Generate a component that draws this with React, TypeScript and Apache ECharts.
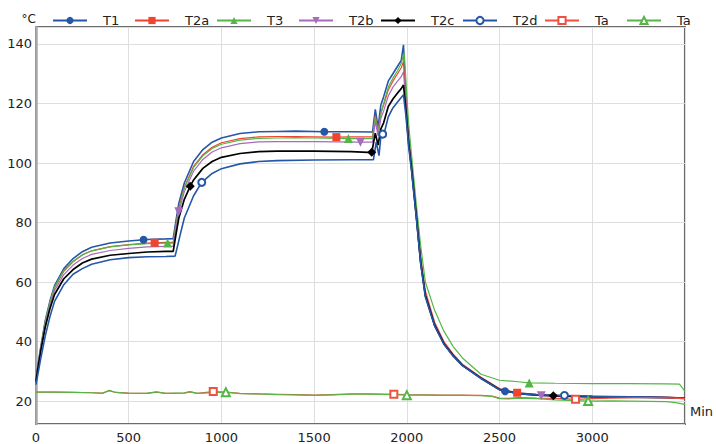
import React, { useEffect, useRef } from "react";
import * as echarts from "echarts";

const FONT = "'DejaVu Sans', sans-serif";

// x in minutes, y in °C
const T1: [number, number][] = [
  [0, 27.0], [10, 31.8], [25, 37.9], [50, 47.0], [75, 53.6], [100, 58.8], [150, 64.5], [200, 67.9], [250, 70.2], [300, 71.7],
  [400, 73.1], [500, 73.8], [580, 74.2], [600, 74.3], [700, 74.5], [740, 74.6], [755, 80.6], [770, 86.4], [800, 93.3], [850, 100.5],
  [900, 104.5], [950, 107.0], [1000, 108.4], [1100, 109.9], [1200, 110.5], [1300, 110.6], [1400, 110.7], [1555, 110.5], [1700, 110.5], [1815, 110.4],
  [1830, 118], [1845, 112], [1860, 119.5], [1875, 122.3], [1900, 127.5], [1925, 130], [1950, 132.5], [1970, 134.5], [1982, 139.7], [1995, 121],
  [2010, 107.5], [2025, 98.5], [2050, 83], [2075, 66.5], [2100, 55.5], [2150, 45.5], [2200, 39.3], [2250, 35.3], [2300, 32], [2400, 27.8],
  [2500, 23.9], [2530, 23.3], [2600, 22.7], [2700, 22.2], [2800, 21.9], [2900, 21.7], [3000, 21.5], [3200, 21.3], [3400, 21.1], [3500, 20.9],
];
const T1_MARKS = [580, 1555, 2530];

const T2A: [number, number][] = [
  [0, 27.0], [10, 31.6], [25, 37.6], [50, 46.4], [75, 52.9], [100, 58.0], [150, 63.6], [200, 66.8], [250, 69.1], [300, 70.5],
  [400, 71.9], [500, 72.6], [600, 73.1], [640, 73.2], [700, 73.3], [740, 73.3], [755, 79.4], [770, 85.0], [800, 91.8], [850, 98.9],
  [900, 102.8], [950, 105.3], [1000, 106.8], [1100, 108.2], [1200, 108.8], [1300, 108.9], [1400, 108.9], [1500, 108.8], [1620, 108.7], [1700, 108.8],
  [1815, 108.8], [1830, 116], [1845, 110.5], [1860, 117], [1875, 119.5], [1900, 124.5], [1925, 127.5], [1950, 130], [1970, 132], [1982, 134],
  [1995, 122], [2010, 109], [2025, 100], [2050, 84.5], [2075, 68.5], [2100, 57], [2150, 46.5], [2200, 40], [2250, 35.8], [2300, 32.4],
  [2400, 28], [2500, 24.2], [2595, 22.8], [2700, 22.3], [2800, 22.0], [2900, 21.8], [3000, 21.6], [3200, 21.4], [3400, 21.3], [3500, 21.1],
];
const T2A_MARKS = [640, 1620, 2595];

const T3: [number, number][] = [
  [0, 27.0], [10, 31.6], [25, 37.8], [50, 46.7], [75, 53.2], [100, 58.3], [150, 63.9], [200, 67.0], [250, 69.2], [300, 70.5],
  [400, 71.8], [500, 72.5], [600, 72.9], [710, 73.1], [740, 73.1], [755, 79.1], [770, 84.7], [800, 91.5], [850, 98.5], [900, 102.4],
  [950, 104.9], [1000, 106.3], [1100, 107.7], [1200, 108.3], [1300, 108.4], [1400, 108.5], [1500, 108.4], [1685, 108.2], [1815, 108.2], [1830, 115.5],
  [1845, 110], [1860, 116.5], [1875, 120], [1900, 125.5], [1925, 128.5], [1950, 131], [1970, 133.5], [1986, 137.2], [1995, 128], [2010, 113],
  [2025, 103], [2050, 87], [2075, 72], [2100, 60], [2150, 50.5], [2200, 43.5], [2250, 38.3], [2300, 34.5], [2400, 29], [2500, 27.0],
  [2600, 26.5], [2660, 26.1], [2800, 26.0], [3000, 25.9], [3200, 25.9], [3400, 25.8], [3470, 25.7], [3485, 24.5], [3500, 23.3],
];
const T3_MARKS = [710, 1685, 2660];

const T2B: [number, number][] = [
  [0, 26.8], [10, 31.3], [25, 37.2], [50, 45.8], [75, 52.1], [100, 57.1], [150, 62.5], [200, 65.7], [250, 67.9], [300, 69.3],
  [400, 70.6], [500, 71.3], [600, 71.8], [700, 72.0], [740, 72.0], [755, 78.0], [770, 83.6], [800, 90.3], [850, 97.3], [900, 101.2],
  [950, 103.7], [1000, 105.1], [1100, 106.5], [1200, 107.1], [1300, 107.2], [1500, 107.2], [1750, 107.0], [1815, 107.0], [1830, 114], [1845, 109],
  [1860, 115], [1875, 117.5], [1900, 122.5], [1925, 125.5], [1950, 127.5], [1970, 129], [1982, 130.7], [1995, 120], [2010, 107.5], [2025, 99],
  [2050, 83.5], [2075, 67], [2100, 56], [2150, 45.8], [2200, 39.5], [2250, 35.4], [2300, 32.1], [2400, 27.8], [2500, 24], [2600, 22.6],
  [2725, 21.8], [2800, 21.6], [2900, 21.5], [3000, 21.4], [3200, 21.3], [3400, 21.2], [3500, 21.0],
];
const T2B_MARKS = [770, 1750, 2725];

const T2C: [number, number][] = [
  [0, 26.5], [10, 30.9], [25, 36.6], [50, 44.9], [75, 51.0], [100, 55.8], [150, 61.1], [200, 64.2], [250, 66.4], [300, 67.7],
  [400, 69.0], [500, 69.6], [600, 70.1], [700, 70.3], [740, 70.3], [755, 76.0], [770, 81.4], [800, 87.8], [832, 92.2], [850, 94.3],
  [900, 98.2], [950, 100.5], [1000, 101.9], [1100, 103.2], [1200, 103.8], [1300, 104.0], [1500, 104.0], [1700, 103.8], [1790, 103.6], [1811, 103.6],
  [1830, 110], [1845, 106], [1860, 111.5], [1875, 113.5], [1900, 119], [1925, 121.5], [1950, 123.5], [1970, 125], [1982, 126.2], [1995, 118],
  [2010, 106.5], [2025, 98.5], [2050, 83], [2075, 66.5], [2100, 55.5], [2150, 45.5], [2200, 39.3], [2250, 35.3], [2300, 32], [2400, 27.7],
  [2500, 23.9], [2600, 22.5], [2700, 22.0], [2790, 21.8], [2900, 21.6], [3000, 21.5], [3200, 21.3], [3400, 21.2], [3500, 21.0],
];
const T2C_MARKS = [832, 1811, 2790];

const T2D: [number, number][] = [
  [0, 25.5], [10, 29.0], [25, 34.1], [50, 41.9], [75, 48.3], [100, 53.5], [150, 59.1], [200, 62.6], [250, 64.5], [300, 66.0],
  [400, 67.5], [500, 68.2], [600, 68.5], [700, 68.6], [750, 68.7], [765, 72.5], [780, 76.5], [800, 81.5], [850, 89.0], [894, 93.5],
  [950, 96.5], [1000, 98.1], [1100, 99.7], [1200, 100.5], [1300, 100.8], [1500, 101.0], [1700, 101.1], [1820, 101.1], [1835, 107], [1850, 102.5],
  [1860, 109], [1870, 109.7], [1880, 110.5], [1900, 115.5], [1925, 118.5], [1950, 120.5], [1970, 122], [1982, 122.9], [1995, 116], [2010, 105.5],
  [2025, 97.5], [2050, 82.5], [2075, 66], [2100, 55], [2150, 45.2], [2200, 39.1], [2250, 35.1], [2300, 31.9], [2400, 27.6], [2500, 23.8],
  [2600, 22.5], [2700, 22.1], [2850, 21.9], [3000, 21.6], [3200, 21.4], [3400, 21.2], [3500, 21.0],
];
const T2D_MARKS = [894, 1870, 2850];

const TA1: [number, number][] = [
  [0, 23.0], [100, 23.0], [200, 22.9], [300, 22.8], [360, 22.7], [395, 23.5], [430, 22.9], [500, 22.7], [600, 22.6], [650, 23.0],
  [700, 22.6], [800, 22.7], [830, 23.1], [870, 22.6], [956, 23.2], [1024, 23.0], [1100, 22.6], [1200, 22.4], [1300, 22.3], [1400, 22.2],
  [1500, 22.0], [1600, 22.2], [1700, 22.4], [1800, 22.4], [1930, 22.3], [2000, 22.2], [2100, 22.1], [2200, 22.0], [2300, 22.0], [2400, 21.9],
  [2460, 21.7], [2500, 21.0], [2550, 20.9], [2600, 21.2], [2700, 21.0], [2800, 20.9], [2910, 20.6], [3000, 20.8], [3100, 21.0], [3200, 21.1],
  [3300, 21.2], [3400, 21.1], [3500, 20.8],
];
const TA1_MARKS = [956, 1930, 2910];

const TA2: [number, number][] = [
  [0, 23.0], [100, 23.0], [200, 22.9], [300, 22.8], [360, 22.6], [395, 23.6], [430, 22.9], [500, 22.6], [600, 22.7], [650, 23.1],
  [700, 22.6], [800, 22.8], [830, 23.2], [870, 22.6], [956, 22.8], [1024, 23.0], [1100, 22.5], [1200, 22.4], [1300, 22.2], [1400, 22.1],
  [1500, 21.9], [1600, 22.1], [1700, 22.3], [1800, 22.3], [1930, 22.2], [2000, 22.0], [2100, 22.0], [2200, 21.9], [2300, 21.9], [2400, 21.8],
  [2460, 21.6], [2500, 20.8], [2550, 20.7], [2600, 21.0], [2700, 20.8], [2800, 20.4], [2978, 20.0], [3100, 20.1], [3200, 20.0], [3300, 19.9],
  [3400, 19.8], [3450, 19.5], [3500, 18.9],
];
const TA2_MARKS = [1024, 2000, 2978];

const LEGEND_NAMES = ["T1", "T2a", "T3", "T2b", "T2c", "T2d", "Ta", "Ta "];

const DOWN_TRIANGLE = "path://M0,0 L10,0 L5,9 Z";

const SERIES_DEFS = [
  { name: "T1", data: T1, marks: T1_MARKS, color: "#2457a8", symbol: "circle", size: 8, width: 1.6 },
  { name: "T2a", data: T2A, marks: T2A_MARKS, color: "#ee4431", symbol: "rect", size: 8, width: 1.2 },
  { name: "T3", data: T3, marks: T3_MARKS, color: "#55b646", symbol: "triangle", size: 9, width: 1.2 },
  { name: "T2b", data: T2B, marks: T2B_MARKS, color: "#a66bbb", symbol: DOWN_TRIANGLE, size: 9, width: 1.2 },
  { name: "T2c", data: T2C, marks: T2C_MARKS, color: "#000000", symbol: "diamond", size: 9, width: 1.7 },
  { name: "T2d", data: T2D, marks: T2D_MARKS, color: "#2457a8", symbol: "emptyCircle", size: 7, width: 1.6 },
  { name: "Ta", data: TA1, marks: TA1_MARKS, color: "#f0503f", symbol: "emptyRect", size: 7, width: 1.2 },
  { name: "Ta ", data: TA2, marks: TA2_MARKS, color: "#55b646", symbol: "emptyTriangle", size: 8, width: 1.2 },
];

export default function App() {
  const ref = useRef<HTMLDivElement>(null);
  useEffect(() => {
    if (!ref.current) return;
    const chart = echarts.init(ref.current, undefined, { renderer: "svg" });
    const series = SERIES_DEFS.map((d) => ({
      name: d.name,
      type: "line",
      symbol: d.symbol,
      symbolSize: d.size,
      showSymbol: true,
      color: d.color,
      itemStyle: { color: d.color, borderWidth: 1.2 },
      lineStyle: { color: d.color, width: d.width },
      data: d.data.map(([x, y]) =>
        d.marks.includes(x) ? { value: [x, y] } : { value: [x, y], symbol: "none" }
      ),
    }));
    const legends = LEGEND_NAMES.map((n, i) => ({
      data: [n],
      left: 52 + 82 * i,
      top: 14,
      padding: 0,
      itemWidth: 34,
      itemHeight: 9,
      formatter: (name: string) => name.trim(),
      textStyle: { fontFamily: FONT, fontSize: 13, color: "#222", padding: [3, 0, 0, 11] },
    }));
    chart.setOption({
      animation: false,
      backgroundColor: "#ffffff",
      textStyle: { fontFamily: FONT },
      legend: legends,
      grid: {
        left: 36, right: 25, top: 27, bottom: 20,
        show: true, borderColor: "#6b6b6b", borderWidth: 2, backgroundColor: "transparent",
      },
      xAxis: {
        type: "value", min: 0, max: 3500, interval: 500,
        name: "Min", nameLocation: "end", nameGap: 5,
        nameTextStyle: { fontFamily: FONT, fontSize: 13, color: "#222", align: "left", verticalAlign: "bottom", padding: [0, 0, 6, 0] },
        axisLine: { show: true, lineStyle: { color: "#6b6b6b", width: 2 } },
        axisTick: { show: false },
        axisLabel: {
          fontFamily: FONT, fontSize: 13, color: "#222", margin: 7, showMaxLabel: false,
          formatter: (v: number) => String(v),
        },
        splitLine: { show: true, lineStyle: { color: "#dedede", width: 1 } },
      },
      yAxis: {
        type: "value", min: 12.3, max: 145.7, splitNumber: 7, minInterval: 20, maxInterval: 20,
        name: "°C", nameLocation: "end", nameGap: 2,
        nameTextStyle: { fontFamily: FONT, fontSize: 12, color: "#222", align: "right", verticalAlign: "bottom" },
        z: 3,
        axisLine: { show: true, lineStyle: { color: "#a9a9a9", width: 2.5 } },
        axisTick: { show: false },
        axisLabel: {
          fontFamily: FONT, fontSize: 13, color: "#222", margin: 4, padding: [0, 0, 7, 0],
          showMinLabel: false, showMaxLabel: false, formatter: (v: number) => String(v),
        },
        splitLine: { show: true, lineStyle: { color: "#dedede", width: 1 } },
      },
      series,
    });
    return () => chart.dispose();
  }, []);
  return (
    <div
      ref={ref}
      style={{ position: "fixed", left: 0, top: 0, width: 716, height: 444, background: "#fff" }}
    />
  );
}
